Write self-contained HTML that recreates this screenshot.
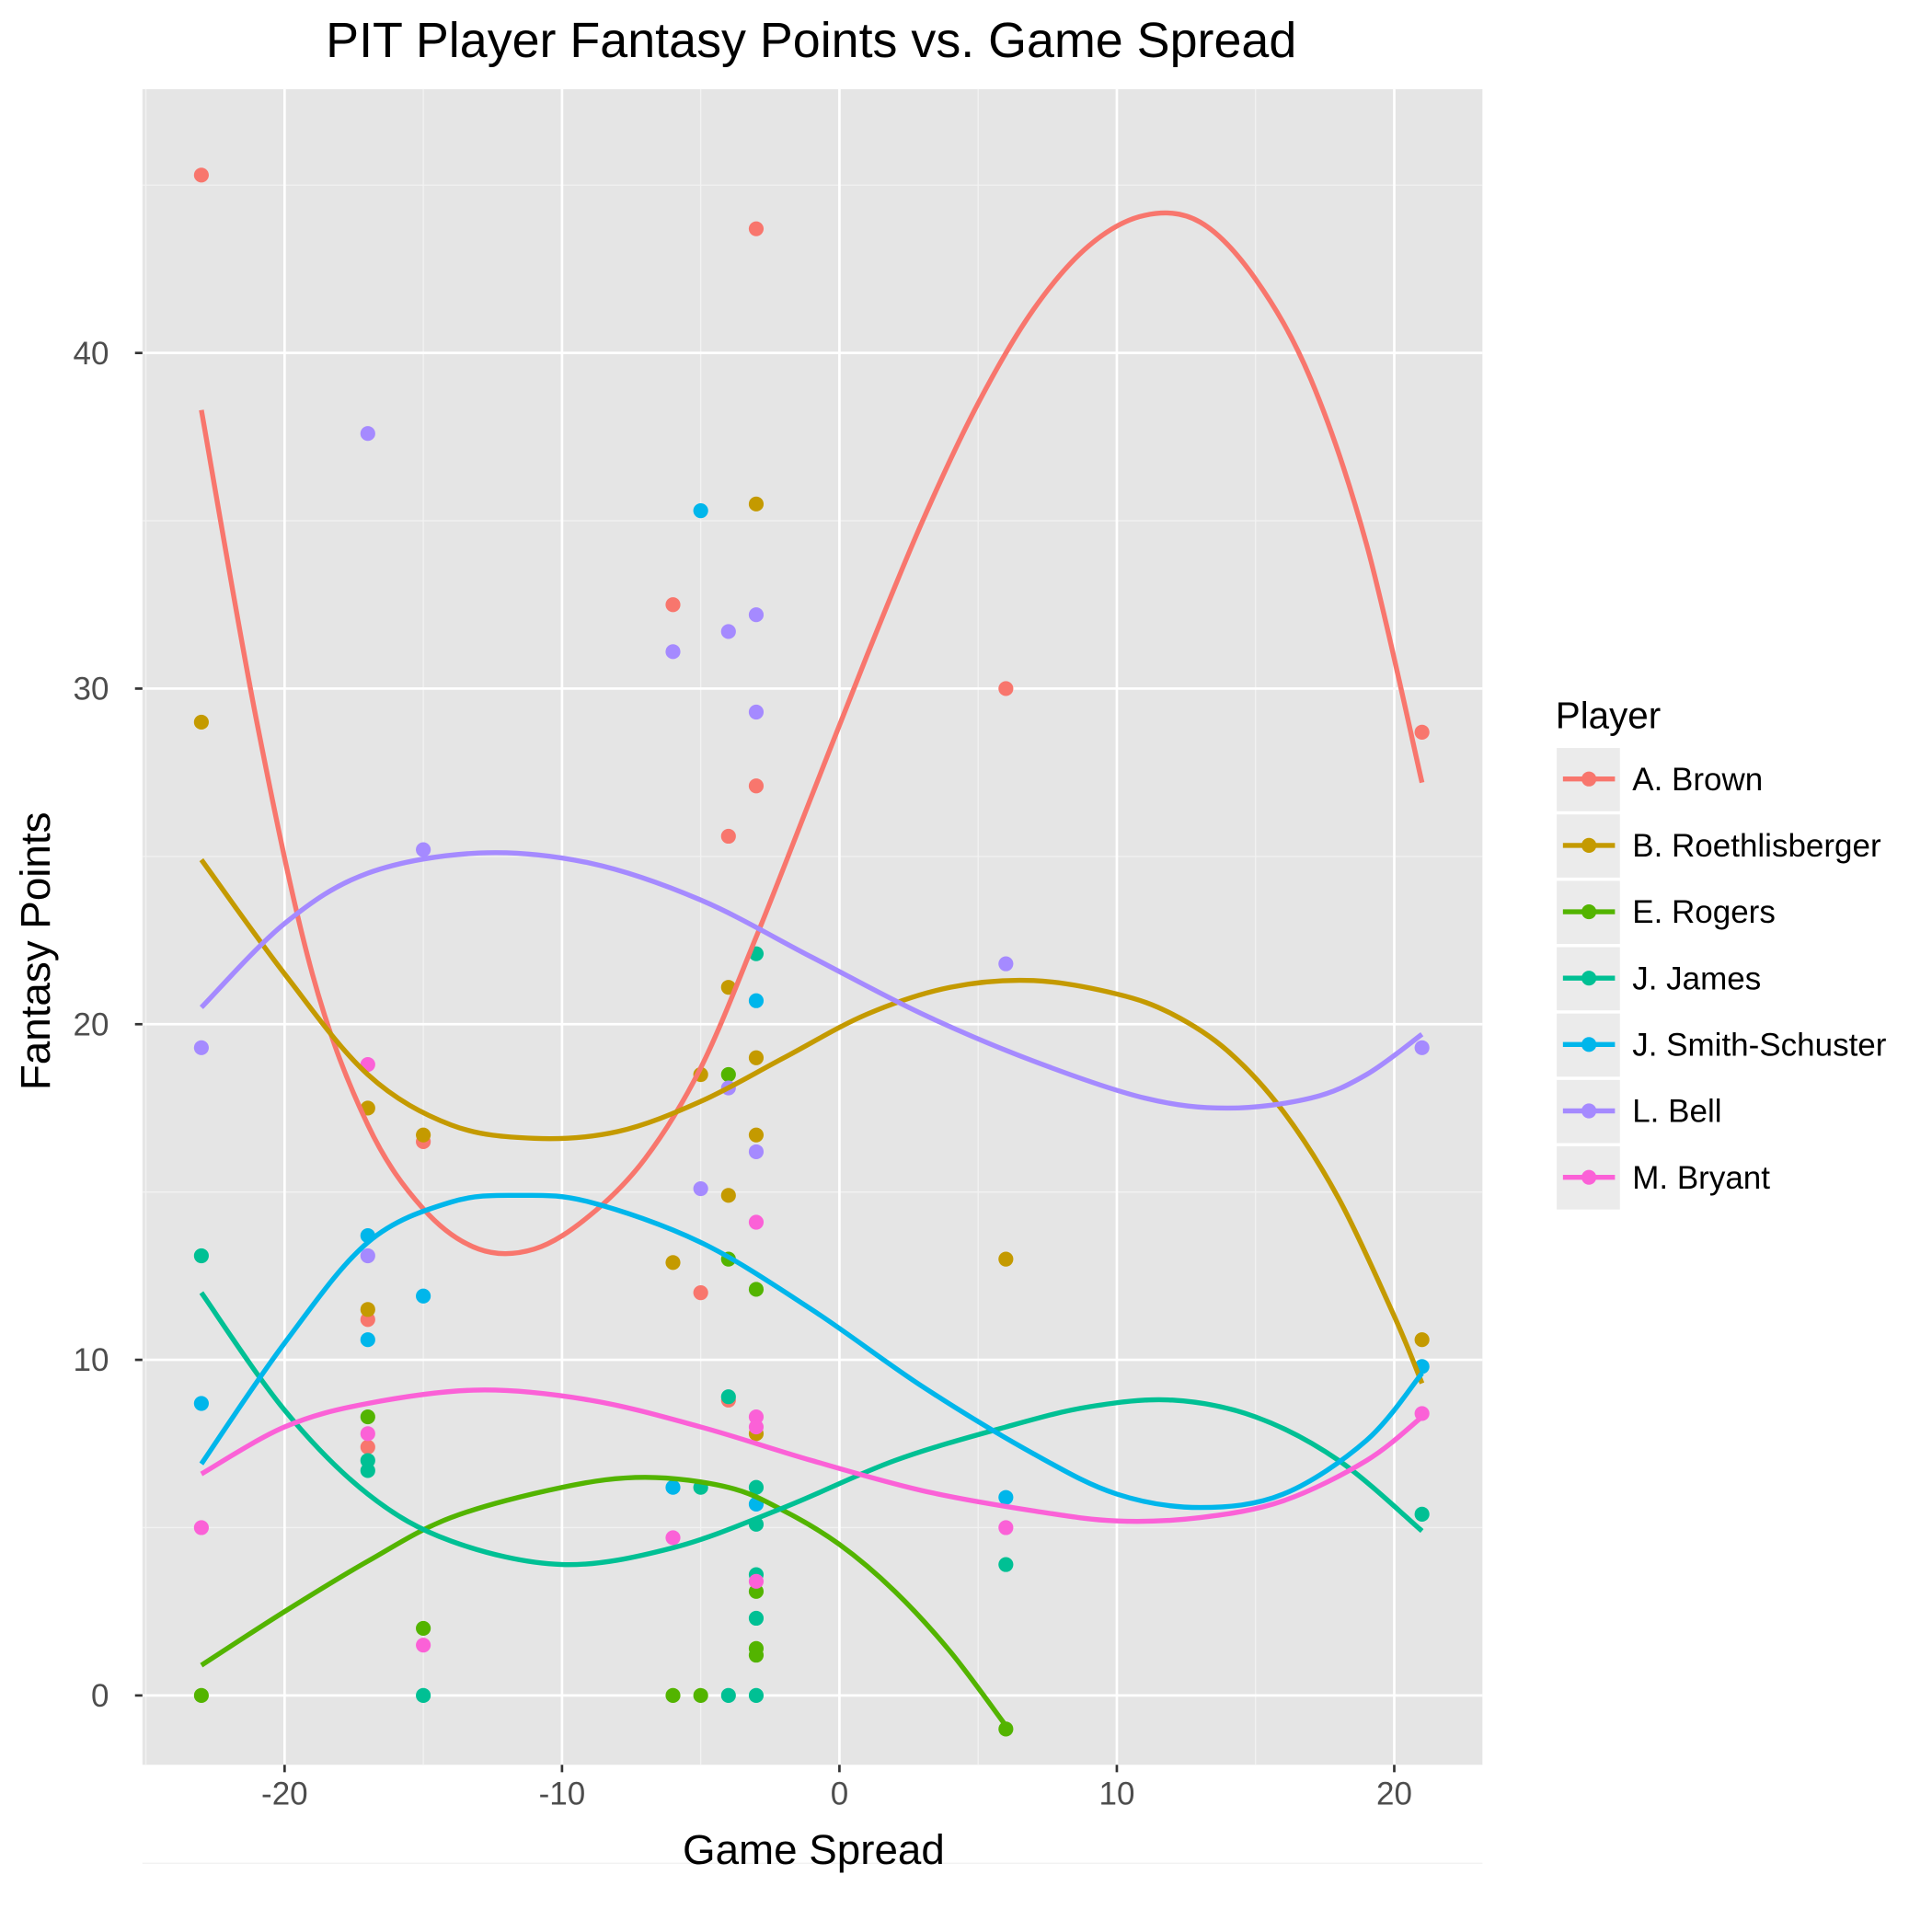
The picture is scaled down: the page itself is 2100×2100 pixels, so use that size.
<!DOCTYPE html>
<html><head><meta charset="utf-8"><style>
html,body{margin:0;padding:0;background:#fff;}
svg{display:block;font-family:"Liberation Sans",Arial,sans-serif;}
</style></head><body>
<svg id="chart" width="2100" height="2100" viewBox="0 0 1560 1560" xmlns="http://www.w3.org/2000/svg">
<rect x="115" y="72" width="1082" height="1353" fill="#e5e5e5"/>
<g id="grid"></g>
<g id="series"></g>
<g id="axes"></g>
<text x="655" y="46" font-size="40" text-anchor="middle" fill="#000">PIT Player Fantasy Points vs. Game Spread</text>
<text x="657" y="1505" font-size="34" text-anchor="middle" fill="#000">Game Spread</text>
<text x="40" y="768" font-size="34" text-anchor="middle" fill="#000" transform="rotate(-90 40 768)">Fantasy Points</text>
<g id="legend"></g>
</svg>
<script>
const NS="http://www.w3.org/2000/svg";
const players=["A. Brown","B. Roethlisberger","E. Rogers","J. James","J. Smith-Schuster","L. Bell","M. Bryant"];
const colors=["#F8766D","#C49A00","#53B400","#00C094","#00B6EB","#A58AFF","#FB61D7"];
const xTicks=[-20,-10,0,10,20];
const yTicks=[0,10,20,30,40];
const brownPts=[[-23,45.3],[-3,43.7],[-6,32.5],[6,30],[21,28.7],[-3,27.1],[-4,25.6],[-15,16.5],[-5,12],[-17,11.2],[-17,7.4],[-4,8.8]];
const roethPts=[[-23,29],[-3,35.5],[-4,21.1],[-3,19],[-5,18.5],[-17,17.5],[-15,16.7],[-3,16.7],[-4,14.9],[-6,12.9],[6,13],[-17,11.5],[-3,7.8],[21,10.6]];
const rogersPts=[[-23,0],[-17,8.3],[-15,2],[-6,0],[-5,0],[-4,18.5],[-4,13],[-3,12.1],[-3,3.1],[-3,1.4],[-3,1.2],[6,-1]];
const jamesPts=[[-23,13.1],[-17,7],[-17,6.7],[-15,0],[-5,6.2],[-4,8.9],[-4,0],[-3,22.1],[-3,6.2],[-3,5.1],[-3,3.6],[-3,2.3],[-3,0],[6,3.9],[21,5.4]];
const smithPts=[[-23,8.7],[-17,13.7],[-17,10.6],[-15,11.9],[-6,6.2],[-5,35.3],[-3,20.7],[-3,5.7],[6,5.9],[21,9.8]];
const bellPts=[[-23,19.3],[-17,37.6],[-17,13.1],[-15,25.2],[-6,31.1],[-5,15.1],[-4,31.7],[-4,18.1],[-3,32.2],[-3,29.3],[-3,16.2],[6,21.8],[21,19.3]];
const bryantPts=[[-23,5],[-17,18.8],[-17,7.8],[-15,1.5],[-6,4.7],[-3,14.1],[-3,8.3],[-3,8],[-3,3.4],[6,5],[21,8.4]];
const brownFit=[[-23,38.3],[-21,29],[-19,21.5],[-17,17],[-15,14.5],[-13,13.3],[-11,13.3],[-9,14.3],[-7,16],[-5,18.7],[-3,22.6],[-1,26.8],[1,31],[3,35],[5,38.5],[7,41.3],[9,43.2],[11,44.1],[13,43.9],[15,42.2],[17,39.2],[19,34.3],[21,27.2]];
const roethFit=[[-23,24.9],[-20,21.5],[-17,18.5],[-14,17],[-11,16.6],[-8,16.8],[-5,17.7],[-2,19],[1,20.3],[4,21.1],[7,21.3],[10,20.9],[12,20.3],[14,19.2],[16,17.4],[18,14.8],[20,11.3],[21,9.3]];
const rogersFit=[[-23,0.9],[-20,2.5],[-17,4],[-14,5.3],[-10,6.2],[-7,6.5],[-4,6.2],[-2,5.5],[0,4.5],[2,3.1],[4,1.3],[6,-0.9]];
const jamesFit=[[-23,12],[-20,8.5],[-17,6],[-14,4.6],[-10,3.9],[-6,4.4],[-2,5.6],[2,7],[6,8],[9,8.6],[12,8.8],[15,8.3],[18,7],[21,4.9]];
const smithFit=[[-23,6.9],[-20,10.5],[-17,13.5],[-14,14.7],[-11.5,14.9],[-9,14.7],[-5,13.5],[-1,11.5],[3,9.2],[7,7.2],[10,6],[13,5.6],[16,6],[19,7.6],[21,9.6]];
const bellFit=[[-23,20.5],[-20,23],[-17,24.5],[-13,25.1],[-9,24.8],[-5,23.7],[-1,22],[3,20.3],[7,18.9],[11,17.8],[14,17.5],[17,17.8],[19,18.5],[21,19.7]];
const bryantFit=[[-23,6.6],[-20,8],[-17,8.7],[-13,9.1],[-9,8.8],[-5,8],[-1,7],[3,6.1],[7,5.5],[10,5.2],[13,5.3],[16,5.8],[19,7],[21,8.3]];
const allPts=[brownPts,roethPts,rogersPts,jamesPts,smithPts,bellPts,bryantPts];
const allFits=[brownFit,roethFit,rogersFit,jamesFit,smithFit,bellFit,bryantFit];

const X=v=>677.8+22.4*v, Y=v=>1369-27.1*v;
function mk(tag,attrs,parent){const e=document.createElementNS(NS,tag);for(const k in attrs)e.setAttribute(k,attrs[k]);parent.appendChild(e);return e;}
const grid=document.getElementById('grid'),axes=document.getElementById('axes'),series=document.getElementById('series'),legend=document.getElementById('legend');
[-25,-15,-5,5,15].forEach(v=>{if(X(v)>115){const l=mk('line',{x1:X(v),x2:X(v),y1:72,y2:1425,stroke:'#f2f2f2','stroke-width':1},grid);

}});
[-5,5,15,25,35,45].forEach(v=>{const l=mk('line',{x1:115,x2:1197,y1:Y(v),y2:Y(v),stroke:'#f2f2f2','stroke-width':1},grid);

});
xTicks.forEach(v=>{const l=mk('line',{x1:X(v),x2:X(v),y1:72,y2:1425,stroke:'#fff','stroke-width':2},grid);


const t=mk('line',{x1:X(v),x2:X(v),y1:1425,y2:1431,stroke:'#333','stroke-width':2},axes);


const tx=mk('text',{x:X(v),y:1457,'font-size':26,'text-anchor':'middle',fill:'#4d4d4d'},axes);tx.textContent=v;

});
yTicks.forEach(v=>{const l=mk('line',{x1:115,x2:1197,y1:Y(v),y2:Y(v),stroke:'#fff','stroke-width':2},grid);


const t=mk('line',{x1:109,x2:115,y1:Y(v),y2:Y(v),stroke:'#333','stroke-width':2},axes);


const tx=mk('text',{x:88,y:Y(v)+9,'font-size':26,'text-anchor':'end',fill:'#4d4d4d'},axes);tx.textContent=v;

});
function smooth(p){let d='M'+X(p[0][0])+','+Y(p[0][1]);
for(let i=0;i<p.length-1;i++){const p0=p[Math.max(0,i-1)],p1=p[i],p2=p[i+1],p3=p[Math.min(p.length-1,i+2)];
const c1x=X(p1[0])+(X(p2[0])-X(p0[0]))/6,c1y=Y(p1[1])+(Y(p2[1])-Y(p0[1]))/6;
const c2x=X(p2[0])-(X(p3[0])-X(p1[0]))/6,c2y=Y(p2[1])-(Y(p3[1])-Y(p1[1]))/6;
d+=` C${c1x},${c1y} ${c2x},${c2y} ${X(p2[0])},${Y(p2[1])}`;}return d;}
players.forEach((p,i)=>{
 const g=mk('g',{},series);
 
 
 allPts[i].forEach(pt=>{const c=mk('circle',{cx:X(pt[0]),cy:Y(pt[1]),r:6,fill:colors[i]},g);
  
  });
});
players.forEach((p,i)=>{
 const path=mk('path',{d:smooth(allFits[i]),fill:'none',stroke:colors[i],'stroke-width':4},series);
 
 
});
const lt=mk('text',{x:1256,y:588,'font-size':30,fill:'#000'},legend);lt.textContent='Player';


players.forEach((p,i)=>{const cy=629+i*53.6;
 const g=mk('g',{},legend);
 
 
 mk('rect',{x:1257,y:cy-25,width:51,height:51,fill:'#ebebeb'},g);
 mk('line',{x1:1262,x2:1304,y1:cy,y2:cy,stroke:colors[i],'stroke-width':4},g);
 mk('circle',{cx:1283,cy:cy,r:6,fill:colors[i]},g);
 const t=mk('text',{x:1318,y:cy+9,'font-size':26,fill:'#000'},g);t.textContent=p;});
</script>
</body></html>
